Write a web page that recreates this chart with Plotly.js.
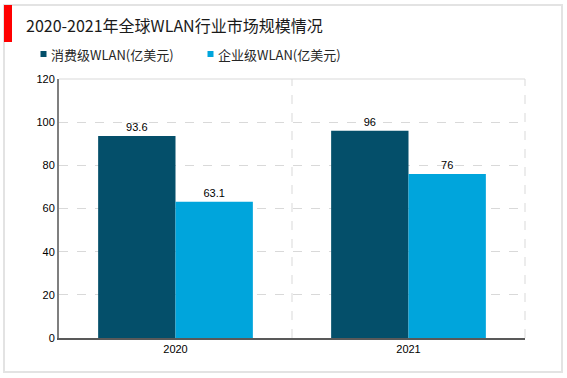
<!DOCTYPE html>
<html><head><meta charset="utf-8">
<script src="https://cdn.plot.ly/plotly-3.0.1.min.js"></script>
<style>html,body{margin:0;padding:0;background:#fff;}#c{width:567px;height:378px;}</style>
</head><body><div id="c"></div>
<script>
const categories = ['2020', '2021'];
const consumerValues = [93.6, 96];
const enterpriseValues = [63.1, 76];
const seriesNames = ['消费级WLAN(亿美元)', '企业级WLAN(亿美元)'];
const seriesColors = ['#044F6A', '#00A5DC'];
const chartTitle = '2020-2021年全球WLAN行业市场规模情况';

const W = 567, H = 378, L = 59, R = 525, T = 79, B = 338;
const px = v => (v - L) / (R - L);
const py = v => (B - v) / (B - T);

const labelFont = {family: 'Liberation Sans, Arial, sans-serif', size: 11, color: '#000'};
const cjkFont = {family: 'Noto Sans CJK SC, sans-serif', size: 13, color: '#262626'};
const traces = [
  {type: 'bar', name: seriesNames[0], x: categories, y: consumerValues,
   marker: {color: seriesColors[0]}, text: consumerValues.map(String), textposition: 'outside',
   textfont: labelFont, cliponaxis: false, hoverinfo: 'none', showlegend: false},
  {type: 'bar', name: seriesNames[1], x: categories, y: enterpriseValues,
   marker: {color: seriesColors[1]}, text: enterpriseValues.map(String), textposition: 'outside',
   textfont: labelFont, cliponaxis: false, hoverinfo: 'none', showlegend: false}
];
const grid = {color: '#D9D9D9', width: 1, dash: 'dash'};
const legendX = [[40.5, 49], [207.5, 216]];
const legendY = 54;
const shapes = [
  {type: 'rect', xref: 'paper', yref: 'paper', x0: px(4), x1: px(562), y0: py(372), y1: py(5),
   line: {color: '#E3E3E3', width: 2}, layer: 'below'},
  {type: 'rect', xref: 'paper', yref: 'paper', x0: px(4), x1: px(12), y0: py(42), y1: py(5),
   fillcolor: '#FF0000', line: {width: 0}},
  {type: 'line', xref: 'x', yref: 'paper', x0: 0.5, x1: 0.5, y0: 0, y1: 1, line: grid, layer: 'below'},
  {type: 'line', xref: 'paper', yref: 'paper', x0: 1, x1: 1, y0: 0, y1: 1, line: grid, layer: 'below'},
  {type: 'line', xref: 'paper', yref: 'paper', x0: 0, x1: 1, y0: 1, y1: 1, line: {color: '#D9D9D9', width: 1}, layer: 'below'}
];
const annotations = [];
seriesNames.forEach((n, i) => {
  shapes.push({type: 'rect', xref: 'paper', yref: 'paper',
    x0: px(legendX[i][0]), x1: px(legendX[i][0] + 6), y0: py(legendY + 3), y1: py(legendY - 3),
    fillcolor: seriesColors[i], line: {width: 0}});
  annotations.push({text: n, xref: 'paper', yref: 'paper', x: px(legendX[i][1]), y: py(legendY + 1),
    xanchor: 'left', yanchor: 'middle', showarrow: false, font: cjkFont});
});
const layout = {
  width: W, height: H,
  margin: {l: L, r: W - R, t: T, b: H - B},
  paper_bgcolor: '#fff', plot_bgcolor: '#fff',
  title: {text: chartTitle, x: 26/W, xanchor: 'left', y: 1 - 26/H, yanchor: 'middle',
          font: {family: 'Noto Sans CJK SC, sans-serif', size: 16, color: '#1a1a1a'}},
  showlegend: false,
  barmode: 'group', bargap: 0.336, bargroupgap: 0,
  xaxis: {type: 'category', showgrid: false, showline: true, linecolor: '#595959', linewidth: 2,
          ticks: '', tickfont: labelFont, fixedrange: true, zeroline: false},
  yaxis: {range: [0, 120], dtick: 20, showgrid: true, gridcolor: '#D9D9D9', griddash: 'dash',
          showline: true, linecolor: '#7F7F7F', linewidth: 2, ticks: '', tickfont: labelFont,
          zeroline: false, fixedrange: true},
  shapes: shapes,
  annotations: annotations
};
Plotly.newPlot('c', traces, layout, {displayModeBar: false, staticPlot: true});
</script></body></html>
